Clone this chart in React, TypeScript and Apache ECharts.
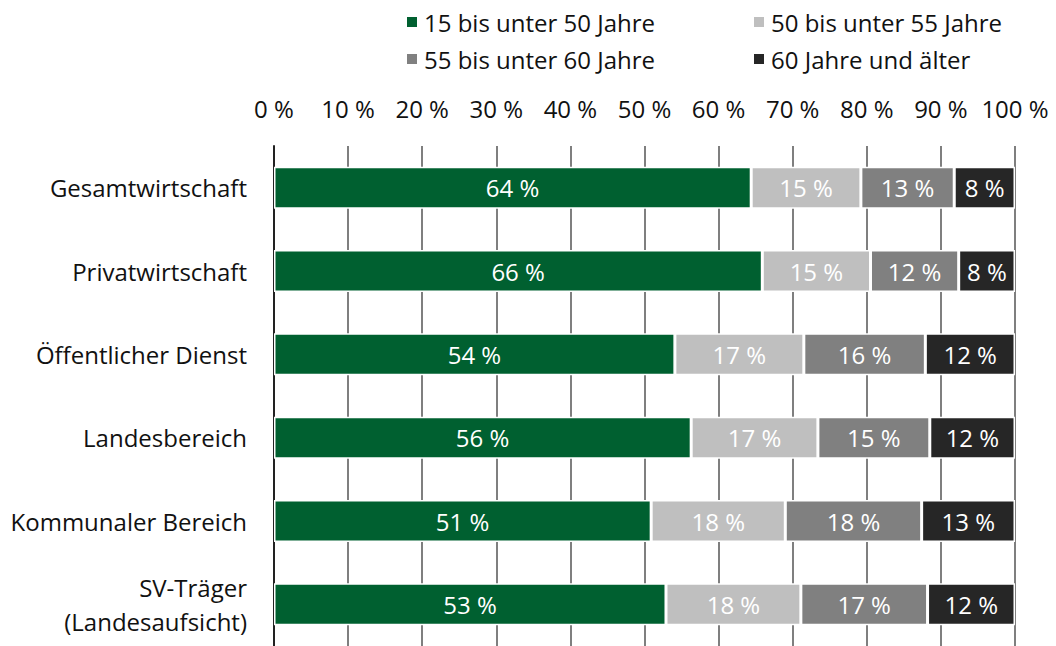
import React, { useEffect, useRef } from "react";
import * as echarts from "echarts";

const categories = [
  "Gesamtwirtschaft",
  "Privatwirtschaft",
  "Öffentlicher Dienst",
  "Landesbereich",
  "Kommunaler Bereich",
  "SV-Träger\n(Landesaufsicht)",
];
const seriesNames = [
  "15 bis unter 50 Jahre",
  "50 bis unter 55 Jahre",
  "55 bis unter 60 Jahre",
  "60 Jahre und älter",
];
const age15to50 = [64.4, 65.9, 54.1, 56.3, 50.9, 52.9];
const age50to55 = [14.8, 14.6, 17.4, 17.1, 18.1, 18.2];
const age55to60 = [12.6, 11.9, 16.4, 15.1, 18.4, 17.1];
const age60plus = [8.2, 7.6, 12.1, 11.5, 12.6, 11.8];
const colors = ["#006030", "#bfbfbf", "#808080", "#262626"];
const FONT = "'Open Sans', 'Noto Sans', sans-serif";
const FS = 24;

export default function App() {
  const ref = useRef<HTMLDivElement>(null);
  useEffect(() => {
    document.body.style.margin = "0";
    const chart = echarts.init(ref.current!, null, { renderer: "svg" });
    const values = [age15to50, age50to55, age55to60, age60plus];
    const legendBase = {
      orient: "vertical",
      top: 5,
      itemWidth: 12,
      itemHeight: 12,
      itemGap: 13,
      icon: "rect",
      textStyle: { fontSize: FS, color: "#111", fontFamily: FONT, padding: [0, 0, 0, 1] },
    };
    chart.setOption({
      animation: false,
      textStyle: { fontFamily: FONT },
      legend: [
        { ...legendBase, data: [seriesNames[0], seriesNames[2]], left: 400 },
        { ...legendBase, data: [seriesNames[1], seriesNames[3]], left: 747 },
      ],
      grid: { left: 274, right: 41, top: 146, bottom: -4, containLabel: false },
      xAxis: {
        type: "value",
        position: "top",
        min: 0,
        max: 100,
        interval: 10,
        axisLine: { show: false },
        axisTick: { show: false },
        axisLabel: {
          formatter: (v: number) => `${v} %`,
          fontSize: FS,
          color: "#111",
          margin: 26,
          fontFamily: FONT,
        },
        splitLine: { show: true, lineStyle: { color: "#555", width: 1.5 } },
      },
      yAxis: {
        type: "category",
        data: categories,
        inverse: true,
        axisLine: { show: true, lineStyle: { color: "#222", width: 2 } },
        axisTick: { show: false },
        axisLabel: {
          fontSize: FS,
          color: "#111",
          margin: 27,
          lineHeight: 34,
          fontFamily: FONT,
        },
      },
      series: seriesNames.map((name, i) => ({
        name,
        type: "bar",
        stack: "total",
        data: values[i],
        barWidth: 42,
        itemStyle: { color: colors[i], borderColor: "#fff", borderWidth: 1.5 },
        label: {
          show: true,
          position: "inside",
          color: "#fff",
          fontSize: FS,
          fontFamily: FONT,
          formatter: (p: any) => `${Math.round(p.value)} %`,
        },
      })),
    });
    return () => chart.dispose();
  }, []);
  return <div ref={ref} style={{ width: 1056, height: 646 }} />;
}
